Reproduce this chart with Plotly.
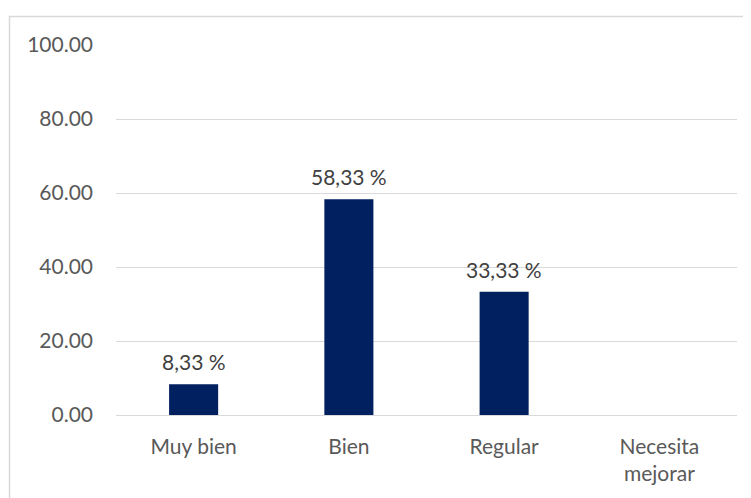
import plotly.graph_objects as go

categories = ["Muy bien", "Bien", "Regular", "Necesita<br>mejorar"]
values = [8.33, 58.33, 33.33, 0]
labels = ["8,33 %", "58,33 %", "33,33 %", ""]
y_ticks = [0, 20, 40, 60, 80, 100]

# page body has a default 8px margin; figure sized to fill the window after it
OFF = 8
W, H = 751 - OFF, 498 - OFF
L, R, T, B = 116 - OFF, 737 - OFF, 45 - OFF, 415 - OFF

def px(x):
    return (x - L) / (R - L)

def py(y):
    return (B - y) / (B - T)

fig = go.Figure(go.Bar(
    x=categories, y=values,
    marker=dict(color="#002060", line=dict(width=0)),
    width=0.316,
))

for c, v, t in zip(categories, values, labels):
    if t:
        fig.add_annotation(x=c, y=v, text=t, showarrow=False,
                           yanchor="bottom", yshift=8,
                           font=dict(size=21, color="#404040"))

fig.update_layout(
    width=W, height=H,
    margin=dict(l=L, r=W - R, t=T, b=H - B, autoexpand=False),
    paper_bgcolor="white", plot_bgcolor="white",
    font=dict(family="Lato, Open Sans, sans-serif", size=20, color="#595959"),
    showlegend=False,
    xaxis=dict(showgrid=False, showline=False, ticks="", automargin=False,
               ticklabelstandoff=17, tickfont=dict(size=21)),
    yaxis=dict(range=[0, 100], tickvals=y_ticks, tickformat=".2f",
               showgrid=True, gridcolor="#d9d9d9", gridwidth=1,
               zeroline=True, zerolinecolor="#d9d9d9", zerolinewidth=1,
               showline=False, ticks="", ticklabelstandoff=22, automargin=False,
               tickfont=dict(size=21)),
    shapes=[dict(type="rect", xref="paper", yref="paper",
                 x0=px(9.5 - OFF), x1=px(780), y0=py(16.5 - OFF), y1=py(520),
                 line=dict(color="#d9d9d9", width=1.5), layer="below")],
)

fig.write_html("out.html")
